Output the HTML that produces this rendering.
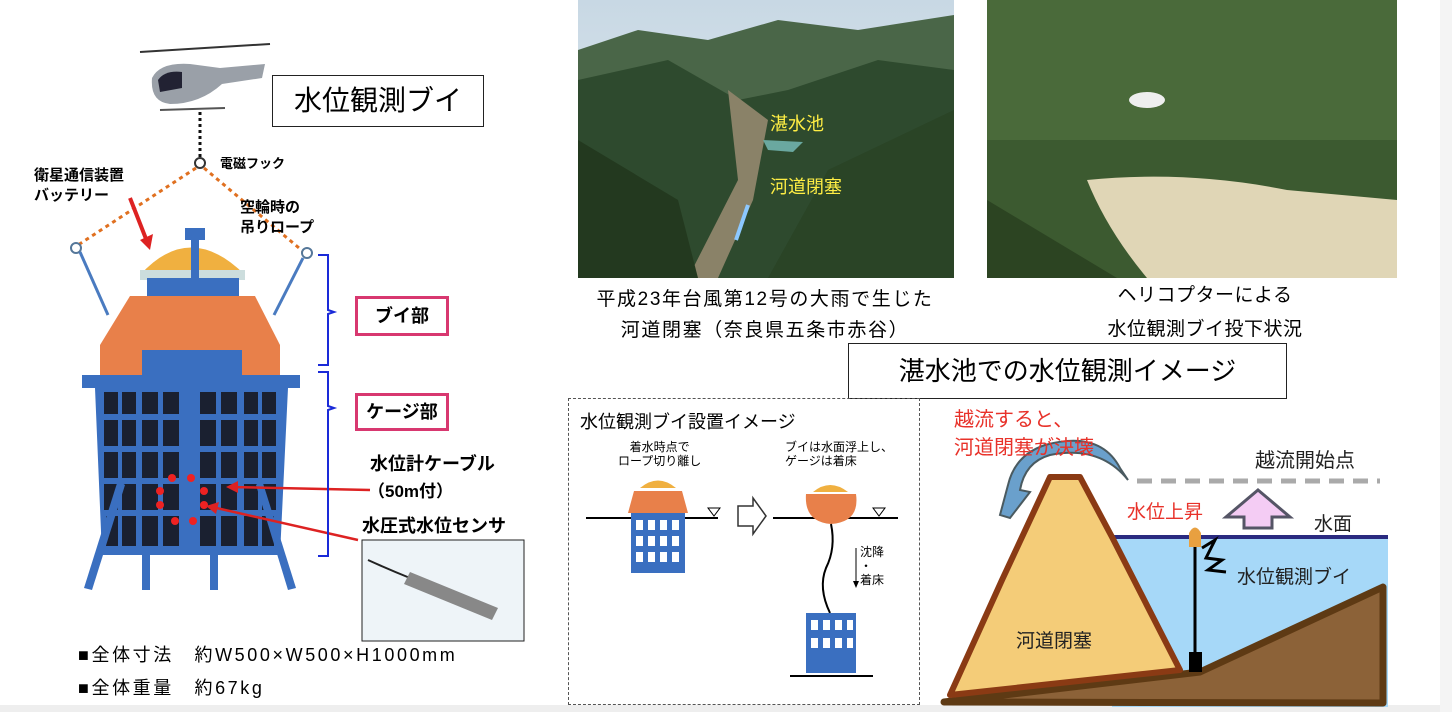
<!DOCTYPE html>
<html><head><meta charset="utf-8"><style>
body{margin:0;width:1452px;height:712px;background:#fff;position:relative;overflow:hidden;font-family:"Liberation Sans","Noto Sans CJK JP",sans-serif;}
.a{position:absolute;white-space:nowrap;}
</style></head><body>
<div class="a" style="left:0;top:705px;width:1452px;height:7px;background:#eee"></div>
<div class="a" style="left:1440px;top:0;width:12px;height:712px;background:#f4f4f4"></div>

<svg class="a" style="left:0;top:0" width="560" height="712">
 <g>
  <line x1="140" y1="52" x2="270" y2="44" stroke="#333" stroke-width="2"/>
  <path d="M152 78 Q160 62 190 64 L220 68 L265 64 L262 78 L222 84 Q200 104 170 104 Q150 102 152 78Z" fill="#9aa0a8"/>
  <path d="M158 80 Q165 70 182 72 L182 88 L160 92Z" fill="#223"/>
  <line x1="160" y1="110" x2="225" y2="108" stroke="#555" stroke-width="2"/>
 </g>
 <line x1="200" y1="112" x2="200" y2="158" stroke="#111" stroke-width="3" stroke-dasharray="3,3"/>
 <circle cx="200" cy="163" r="5" fill="#fff" stroke="#333" stroke-width="2"/>
 <line x1="196" y1="168" x2="78" y2="245" stroke="#e07020" stroke-width="3" stroke-dasharray="4,4"/>
 <line x1="204" y1="168" x2="305" y2="253" stroke="#e07020" stroke-width="3" stroke-dasharray="4,4"/>
 <circle cx="76" cy="248" r="5" fill="#fff" stroke="#579" stroke-width="2"/>
 <circle cx="307" cy="253" r="5" fill="#fff" stroke="#579" stroke-width="2"/>
 <line x1="80" y1="252" x2="108" y2="315" stroke="#4a7bc0" stroke-width="3"/>
 <line x1="303" y1="258" x2="274" y2="315" stroke="#4a7bc0" stroke-width="3"/>
 <path d="M130 198 L148 244" stroke="#d22" stroke-width="4"/>
 <path d="M140 240 L150 250 L153 234Z" fill="#d22"/>
 <path d="M140 275 Q190 220 245 275Z" fill="#f0b040"/>
 <rect x="140" y="270" width="105" height="10" fill="#cdd"/>
 <rect x="185" y="228" width="20" height="12" fill="#3a6fc0"/>
 <rect x="191" y="238" width="8" height="50" fill="#3a6fc0"/>
 <rect x="147" y="278" width="92" height="18" fill="#3a6fc0"/>
 <path d="M130 296 L255 296 L280 345 L280 375 L100 375 L100 345Z" fill="#e8804a"/>
 <rect x="142" y="350" width="100" height="40" fill="#3a6fc0"/>
 <path d="M82 375 L300 375 L300 388 L288 388 L280 555 L102 555 L95 388 L82 388Z" fill="#3a6fc0"/>
 <g fill="#1a2030">
  <rect x="104" y="392" width="14" height="22"/><rect x="122" y="392" width="14" height="22"/><rect x="142" y="392" width="16" height="22"/><rect x="163" y="392" width="16" height="22"/><rect x="200" y="392" width="16" height="22"/><rect x="221" y="392" width="16" height="22"/><rect x="244" y="392" width="14" height="22"/><rect x="262" y="392" width="14" height="22"/>
  <rect x="104" y="420" width="14" height="26"/><rect x="122" y="420" width="14" height="26"/><rect x="142" y="420" width="16" height="26"/><rect x="163" y="420" width="16" height="26"/><rect x="200" y="420" width="16" height="26"/><rect x="221" y="420" width="16" height="26"/><rect x="244" y="420" width="14" height="26"/><rect x="262" y="420" width="14" height="26"/>
  <rect x="104" y="452" width="14" height="26"/><rect x="122" y="452" width="14" height="26"/><rect x="142" y="452" width="16" height="26"/><rect x="163" y="452" width="16" height="26"/><rect x="200" y="452" width="16" height="26"/><rect x="221" y="452" width="16" height="26"/><rect x="244" y="452" width="14" height="26"/><rect x="262" y="452" width="14" height="26"/>
  <rect x="104" y="484" width="14" height="26"/><rect x="122" y="484" width="14" height="26"/><rect x="142" y="484" width="16" height="26"/><rect x="163" y="484" width="16" height="26"/><rect x="200" y="484" width="16" height="26"/><rect x="221" y="484" width="16" height="26"/><rect x="244" y="484" width="14" height="26"/><rect x="262" y="484" width="14" height="26"/>
  <rect x="106" y="516" width="12" height="30"/><rect x="122" y="516" width="14" height="30"/><rect x="142" y="516" width="16" height="30"/><rect x="163" y="516" width="16" height="30"/><rect x="200" y="516" width="16" height="30"/><rect x="221" y="516" width="16" height="30"/><rect x="244" y="516" width="14" height="30"/><rect x="262" y="516" width="12" height="30"/>
 </g>
 <path d="M118 480 L125 485 L92 590 L84 588Z" fill="#3a6fc0"/>
 <path d="M262 480 L256 485 L288 590 L296 588Z" fill="#3a6fc0"/>
 <rect x="142" y="550" width="8" height="40" fill="#3a6fc0"/><rect x="210" y="550" width="8" height="40" fill="#3a6fc0"/>
 <g fill="#e22"><circle cx="172" cy="478" r="4"/><circle cx="191" cy="478" r="4"/><circle cx="160" cy="491" r="4"/><circle cx="204" cy="491" r="4"/><circle cx="160" cy="505" r="4"/><circle cx="204" cy="505" r="4"/><circle cx="175" cy="521" r="4"/><circle cx="193" cy="521" r="4"/></g>
 <line x1="370" y1="490" x2="230" y2="487" stroke="#d22" stroke-width="2.5"/><path d="M226 487 L238 481 L238 493Z" fill="#d22"/>
 <line x1="358" y1="540" x2="212" y2="507" stroke="#d22" stroke-width="2.5"/><path d="M206 506 L219 502 L216 514Z" fill="#d22"/>
 <path d="M318 255 L328 255 L328 310 L334 312 L328 314 L328 365 L318 365" fill="none" stroke="#1a2ad8" stroke-width="2"/>
 <path d="M318 372 L328 372 L328 406 L334 408 L328 410 L328 556 L318 556" fill="none" stroke="#1a2ad8" stroke-width="2"/>
 <rect x="362" y="540" width="162" height="101" fill="#eef4f8" stroke="#222" stroke-width="1"/>
 <path d="M368 560 Q390 570 410 578" stroke="#222" stroke-width="2" fill="none"/>
 <path d="M410 572 L498 608 L492 620 L404 584Z" fill="#888"/>
</svg>

<div class="a" style="left:272px;top:75px;width:210px;height:50px;border:1px solid #222;font-size:28px;line-height:50px;text-align:center">水位観測ブイ</div>
<div class="a" style="left:34px;top:166px;font-size:15px;font-weight:bold;line-height:20px">衛星通信装置<br>バッテリー</div>
<div class="a" style="left:220px;top:153px;font-size:13px;font-weight:bold">電磁フック</div>
<div class="a" style="left:240px;top:198px;font-size:15px;font-weight:bold;line-height:20px">空輪時の<br>吊りロープ</div>
<div class="a" style="left:355px;top:296px;width:88px;height:34px;border:3px solid #d83870;font-size:18px;font-weight:bold;line-height:34px;text-align:center">ブイ部</div>
<div class="a" style="left:355px;top:393px;width:88px;height:32px;border:3px solid #d83870;font-size:18px;font-weight:bold;line-height:32px;text-align:center">ケージ部</div>
<div class="a" style="left:370px;top:450px;font-size:18px;font-weight:bold">水位計ケーブル</div>
<div class="a" style="left:368px;top:477px;font-size:17px;font-weight:bold">（50m付）</div>
<div class="a" style="left:362px;top:512px;font-size:18px;font-weight:bold">水圧式水位センサ</div>
<div class="a" style="left:78px;top:641px;font-size:18px;letter-spacing:2.6px">■全体寸法　約W500×W500×H1000mm</div>
<div class="a" style="left:78px;top:674px;font-size:18px;letter-spacing:2.6px">■全体重量　約67kg</div>

<svg class="a" style="left:578px;top:0" width="376" height="278">
 <defs><linearGradient id="s1" x1="0" y1="0" x2="0" y2="1"><stop offset="0" stop-color="#c8d8e4"/><stop offset="1" stop-color="#e6eef2"/></linearGradient></defs>
 <rect width="376" height="278" fill="url(#s1)"/>
 <path d="M0 50 L60 30 L130 40 L200 20 L280 30 L376 15 L376 278 L0 278Z" fill="#4a6648"/>
 <path d="M0 80 L90 60 L160 100 L210 90 L300 60 L376 70 L376 278 L0 278Z" fill="#2e4a2e"/>
 <path d="M150 90 L190 120 L175 200 L140 278 L110 278 L160 180Z" fill="#8a8268"/>
 <path d="M185 140 L225 142 L215 152 L190 150Z" fill="#6aa8a0"/>
 <path d="M0 140 L100 200 L120 278 L0 278Z" fill="#23391f"/>
 <path d="M376 110 L250 170 L190 278 L376 278Z" fill="#2a4426"/>
 <line x1="170" y1="205" x2="158" y2="240" stroke="#8cc8ff" stroke-width="4"/>
 <text x="192" y="130" font-size="18" fill="#ffee44" font-family="Liberation Sans,Noto Sans CJK JP,sans-serif">湛水池</text>
 <text x="192" y="193" font-size="18" fill="#ffee44" font-family="Liberation Sans,Noto Sans CJK JP,sans-serif">河道閉塞</text>
</svg>
<div class="a" style="left:570px;top:284px;width:390px;text-align:center;font-size:19px;letter-spacing:1.6px;line-height:31px">平成23年台風第12号の大雨で生じた<br>河道閉塞（奈良県五条市赤谷）</div>

<svg class="a" style="left:987px;top:0" width="410" height="278">
 <rect width="410" height="278" fill="#3c5a30"/>
 <rect x="0" y="0" width="410" height="140" fill="#4a6a3a"/>
 <path d="M100 180 Q200 170 300 190 L410 200 L410 278 L160 278 Q120 230 100 180Z" fill="#e0d6b6"/>
 <path d="M0 200 L130 278 L0 278Z" fill="#2c4422"/>
 <ellipse cx="160" cy="100" rx="18" ry="8" fill="#eee"/>
</svg>
<div class="a" style="left:987px;top:279px;width:436px;text-align:center;font-size:19px;letter-spacing:0.5px;line-height:34px">ヘリコプターによる<br>水位観測ブイ投下状況</div>

<div class="a" style="left:848px;top:343px;width:437px;height:54px;border:1px solid #222;font-size:26px;line-height:54px;text-align:center">湛水池での水位観測イメージ</div>

<div class="a" style="left:568px;top:398px;width:350px;height:305px;border:1.5px dashed #555"></div>
<div class="a" style="left:580px;top:408px;font-size:18px">水位観測ブイ設置イメージ</div>
<div class="a" style="left:618px;top:440px;font-size:12px;line-height:14px;text-align:center">着水時点で<br>ロープ切り離し</div>
<div class="a" style="left:785px;top:440px;font-size:12px;line-height:14px">ブイは水面浮上し、<br>ゲージは着床</div>
<div class="a" style="left:860px;top:545px;font-size:12px;line-height:14px">沈降<br>・<br>着床</div>
<svg class="a" style="left:568px;top:398px" width="352" height="307">
 <line x1="18" y1="120" x2="150" y2="120" stroke="#000" stroke-width="2"/>
 <line x1="205" y1="120" x2="330" y2="120" stroke="#000" stroke-width="2"/>
 <path d="M140 110 L152 110 L146 118Z M305 110 L317 110 L311 118Z" fill="none" stroke="#000"/>
 <path d="M170 108 L185 108 L185 100 L198 118 L185 136 L185 128 L170 128Z" fill="#fff" stroke="#333" stroke-width="1.5"/>
 <path d="M72 90 Q90 75 108 90Z" fill="#f0b040"/>
 <path d="M66 93 L114 93 L120 115 L60 115Z" fill="#e8804a"/>
 <rect x="63" y="115" width="54" height="60" fill="#3a6fc0"/>
 <g fill="#fff"><rect x="68" y="122" width="7" height="10"/><rect x="80" y="122" width="7" height="10"/><rect x="92" y="122" width="7" height="10"/><rect x="104" y="122" width="7" height="10"/><rect x="68" y="138" width="7" height="10"/><rect x="80" y="138" width="7" height="10"/><rect x="92" y="138" width="7" height="10"/><rect x="104" y="138" width="7" height="10"/><rect x="68" y="154" width="7" height="10"/><rect x="80" y="154" width="7" height="10"/><rect x="92" y="154" width="7" height="10"/><rect x="104" y="154" width="7" height="10"/></g>
 <path d="M245 94 Q262 80 280 94Z" fill="#f0b040"/>
 <path d="M238 96 L288 96 Q292 124 263 126 Q236 124 238 96Z" fill="#e8804a"/>
 <path d="M263 126 Q268 150 258 170 Q250 190 262 215" stroke="#000" stroke-width="2" fill="none"/>
 <line x1="288" y1="150" x2="288" y2="185" stroke="#000"/><path d="M285 183 L291 183 L288 190Z"/>
 <rect x="238" y="215" width="50" height="60" fill="#3a6fc0"/>
 <g fill="#fff"><rect x="243" y="222" width="7" height="10"/><rect x="255" y="222" width="7" height="10"/><rect x="267" y="222" width="7" height="10"/><rect x="279" y="222" width="6" height="10"/><rect x="243" y="240" width="7" height="10"/><rect x="255" y="240" width="7" height="10"/><rect x="267" y="240" width="7" height="10"/><rect x="279" y="240" width="6" height="10"/></g>
 <line x1="222" y1="278" x2="305" y2="278" stroke="#000" stroke-width="2"/>
</svg>

<svg class="a" style="left:930px;top:400px" width="510" height="312">
 <rect x="182" y="137" width="276" height="170" fill="#a6d8f8"/>
 <line x1="182" y1="137" x2="458" y2="137" stroke="#2a2a80" stroke-width="4"/>
 <path d="M14 302 L270 272 L453 187 L453 303 Z" fill="#8c6238" stroke="#5e3a14" stroke-width="7" stroke-linejoin="round"/>
 <path d="M20 295 L72 180 L120 77 L150 77 L182 137 L250 270Z" fill="#f4cc78" stroke="#8a3a14" stroke-width="6" stroke-linejoin="round"/>
 <line x1="207" y1="81" x2="450" y2="81" stroke="#aaa" stroke-width="5" stroke-dasharray="15,9"/>
 <path d="M328 90 L360 117 L342 117 L342 128 L314 128 L314 117 L296 117Z" fill="#f4ccf4" stroke="#556" stroke-width="3"/>
 <line x1="265" y1="145" x2="265" y2="255" stroke="#000" stroke-width="3"/>
 <rect x="259" y="252" width="13" height="20" fill="#000"/>
 <path d="M259 147 L259 133 Q265 122 271 133 L271 147Z" fill="#e8a040"/>
 <path d="M272 148 L285 140 L276 158 L292 160 L278 170 L296 172" stroke="#000" stroke-width="3" fill="none"/>
 <path d="M198 80 Q170 45 120 55 Q95 62 90 90 L100 92 L80 118 L70 115 L78 85 Q85 55 115 45 Q170 30 190 68Z" fill="#6aa0cc" stroke="#4a5a60" stroke-width="2"/>
 <g font-family="Liberation Sans,Noto Sans CJK JP,sans-serif">
 <text x="24" y="26" font-size="20" fill="#e8322a">越流すると、</text>
 <text x="24" y="54" font-size="20" fill="#e8322a">河道閉塞が決壊</text>
 <text x="325" y="67" font-size="20" fill="#222">越流開始点</text>
 <text x="197" y="118" font-size="19" fill="#e8322a">水位上昇</text>
 <text x="384" y="130" font-size="19" fill="#222">水面</text>
 <text x="307" y="183" font-size="19" fill="#222">水位観測ブイ</text>
 <text x="86" y="247" font-size="19" fill="#222">河道閉塞</text>
 </g>
</svg>
</body></html>
